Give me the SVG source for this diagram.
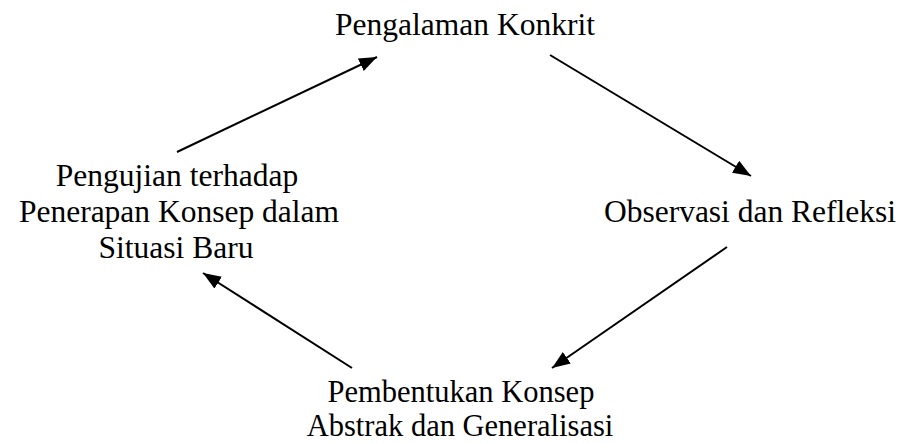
<svg xmlns="http://www.w3.org/2000/svg" width="904" height="443" viewBox="0 0 904 443">
<style>
text{font-family:"Liberation Serif","Times New Roman",serif;font-size:31.5px;fill:#000;text-anchor:middle}
#n3 text{font-size:30.5px}
.c line{stroke:#000;stroke-width:2;marker-end:url(#ah)}
</style>
<defs>
<marker id="ah" markerUnits="userSpaceOnUse" markerWidth="19" markerHeight="15" refX="18" refY="7" orient="auto">
<path d="M0,0 L18,7 L0,14 z" fill="#000"/>
</marker>
</defs>
<rect width="904" height="443" fill="#fff"/>
<g id="n1"><text x="465" y="35">Pengalaman Konkrit</text></g>
<g id="n2"><text x="750" y="222">Observasi dan Refleksi</text></g>
<g id="n3"><text x="461" y="402">Pembentukan Konsep</text><text x="460" y="436">Abstrak dan Generalisasi</text></g>
<g id="n4"><text x="177" y="186">Pengujian terhadap</text><text x="179" y="222">Penerapan Konsep dalam</text><text x="176" y="258">Situasi Baru</text></g>
<g class="c" id="connectors">
<line x1="177" y1="152" x2="377" y2="57"/>
<line x1="550" y1="55" x2="751" y2="176"/>
<line x1="727" y1="247" x2="552" y2="368"/>
<line x1="352" y1="368" x2="203" y2="273"/>
</g>
</svg>
